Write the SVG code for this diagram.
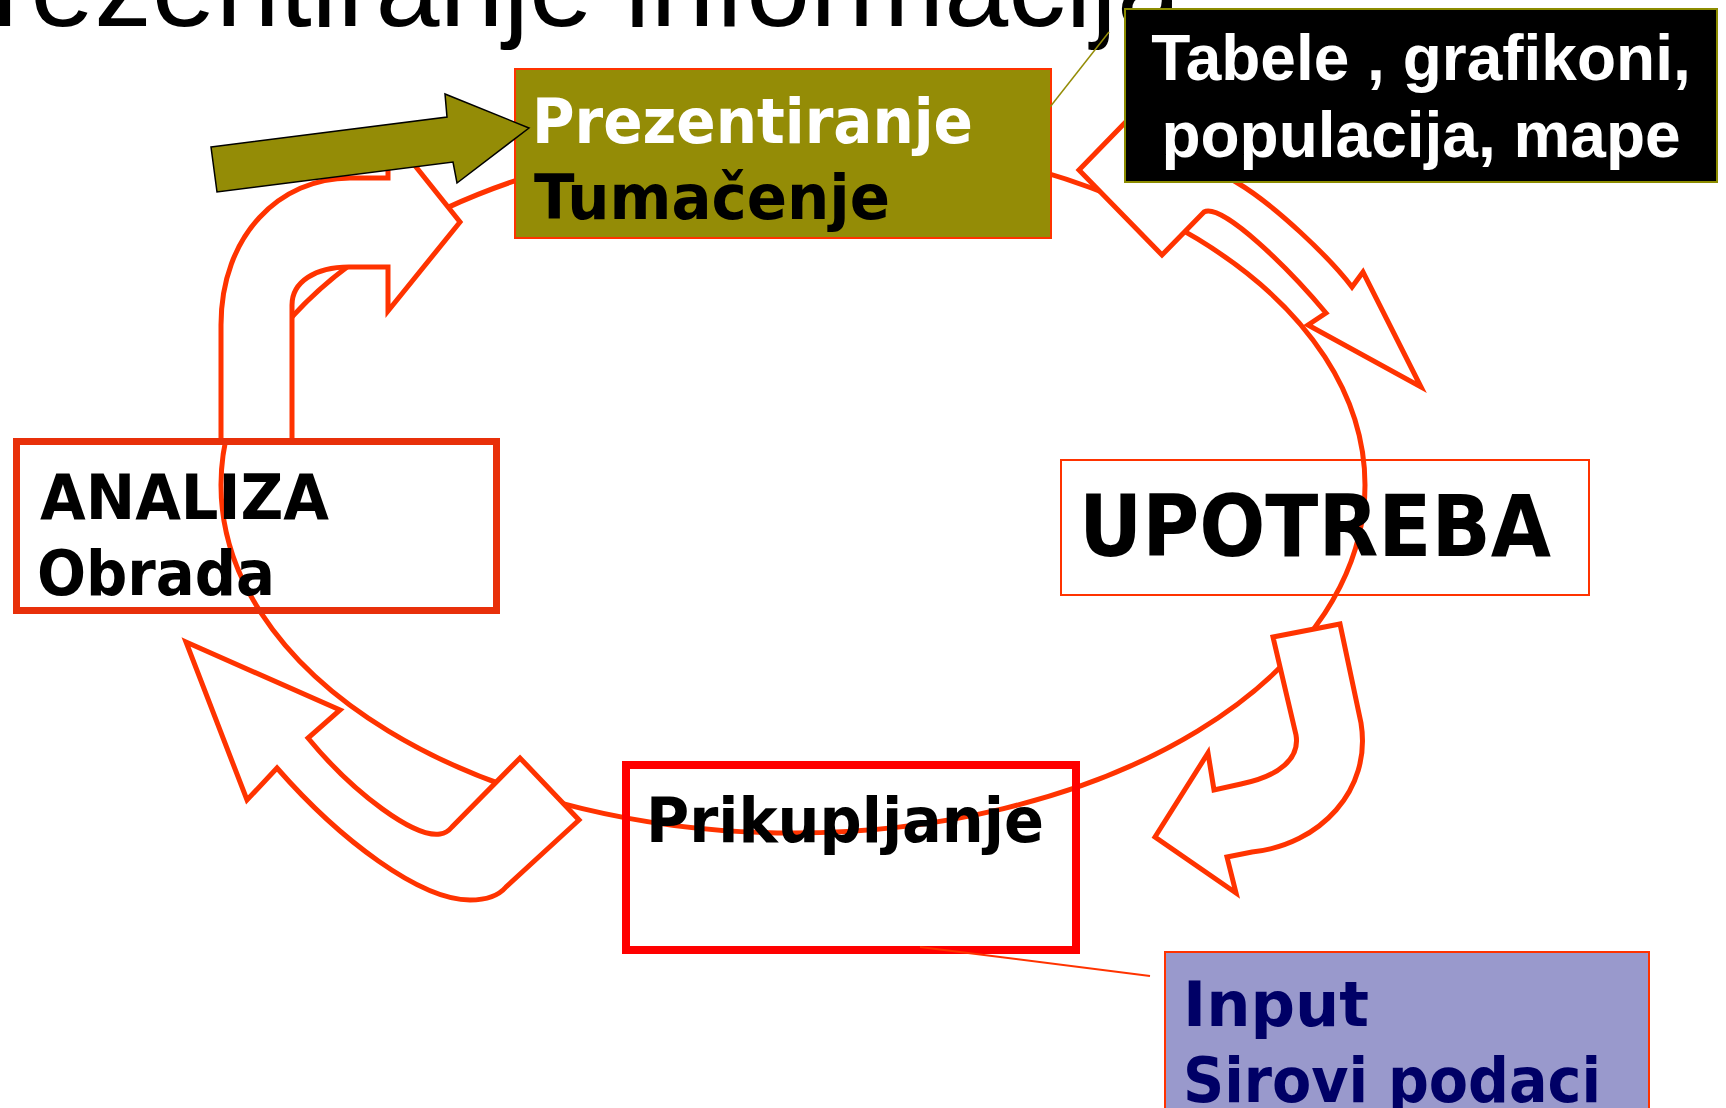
<svg xmlns="http://www.w3.org/2000/svg" width="1726" height="1108" viewBox="0 0 1726 1108">
<style>
.lbl{font-family:"DejaVu Sans Condensed","DejaVu Sans",sans-serif;font-weight:bold;font-size:63px;}
.big{font-family:"Liberation Sans",Arial,sans-serif;font-weight:bold;font-size:64px;fill:#fff;}
.arr{fill:#fff;stroke:#FF3300;stroke-width:5;stroke-linejoin:miter;}
.ring{fill:none;stroke:#FF3300;stroke-width:5;}
</style>
<rect width="1726" height="1108" fill="#fff"/>
<text x="-8" y="26" font-family="Liberation Sans, Arial, sans-serif" font-size="115" fill="#000">rezentiranje informacija</text>

<g id="connectors">
  <ellipse class="ring" cx="793" cy="485" rx="572" ry="348"/>
  <path class="arr" d="M221 441 L221 325 C221 235 280 178 350 178 L388 178 L388 132 L460 222 L388 311 L388 267 L349 267 C315 267 292 282 292 305 L292 441 Z"/>
  <path class="arr" d="M1150 97 L1079 170 L1162 255 L1204 212 C1222 202 1290 270 1326 313 L1308 325 L1421 387 L1363 272 L1352 287 C1330 258 1275 205 1236 182 L1200 160 Z"/>
  <path class="arr" d="M1273 637 L1340 624 L1361 723 C1372 790 1320 845 1252 852 L1227 857 L1236 893 L1155 837 L1208 753 L1214 790 L1241 784 C1280 776 1300 758 1296 735 Z"/>
  <path class="arr" d="M186 642 L340 710 L308 738 C355 795 415 838 440 834 Q447 833 452 827 L520 758 L579 820 L506 887 Q495 900 470 900 C420 900 340 840 277 768 L247 800 Z"/>
</g>

<g id="analiza">
  <rect x="16.5" y="441.5" width="480" height="169" fill="none" stroke="#E8300A" stroke-width="7"/>
  <text class="lbl" x="40" y="519" textLength="289" lengthAdjust="spacingAndGlyphs">ANALIZA</text>
  <text class="lbl" x="37" y="595" textLength="238" lengthAdjust="spacingAndGlyphs">Obrada</text>
</g>

<g id="upotreba">
  <rect x="1061" y="460" width="528" height="135" fill="none" stroke="#FF3300" stroke-width="2"/>
  <text class="lbl" x="1079" y="556" style="font-size:86px" textLength="472" lengthAdjust="spacingAndGlyphs">UPOTREBA</text>
</g>

<g id="prikupljanje">
  <rect x="626" y="765" width="450" height="185" fill="none" stroke="#FF0000" stroke-width="8"/>
  <text class="lbl" x="646" y="842" textLength="398" lengthAdjust="spacingAndGlyphs">Prikupljanje</text>
</g>

<g id="prezentiranje">
  <rect x="515" y="69" width="536" height="169" fill="#948C06" stroke="#FF3300" stroke-width="2"/>
  <text class="lbl" x="532" y="143" fill="#fff" textLength="441" lengthAdjust="spacingAndGlyphs">Prezentiranje</text>
  <text class="lbl" x="534" y="219" fill="#000" textLength="356" lengthAdjust="spacingAndGlyphs">Tumačenje</text>
</g>

<g id="tabele">
  <rect x="1125" y="9" width="592" height="173" fill="#000" stroke="#8C8C00" stroke-width="2"/>
  <text class="big" x="1421" y="80" text-anchor="middle">Tabele , grafikoni,</text>
  <text class="big" x="1421" y="157" text-anchor="middle">populacija, mape</text>
</g>

<g id="input">
  <rect x="1165" y="952" width="484" height="170" fill="#9999CC" stroke="#FF3300" stroke-width="2"/>
  <text class="lbl" x="1183" y="1026" fill="#000066" textLength="186" lengthAdjust="spacingAndGlyphs">Input</text>
  <text class="lbl" x="1183" y="1102" fill="#000066" textLength="418" lengthAdjust="spacingAndGlyphs">Sirovi podaci</text>
</g>

<g id="callouts">
  <line x1="1050" y1="107" x2="1109" y2="32" stroke="#948C06" stroke-width="1.5"/>
  <line x1="920" y1="947" x2="1150" y2="976" stroke="#FF3300" stroke-width="2"/>
</g>

<g id="main-arrow">
  <path d="M211 147 L447 117 L445 94 L529 128 L457 183 L453 162 L217 192 Z" fill="#948C06" stroke="#000" stroke-width="1.5"/>
</g>
</svg>
